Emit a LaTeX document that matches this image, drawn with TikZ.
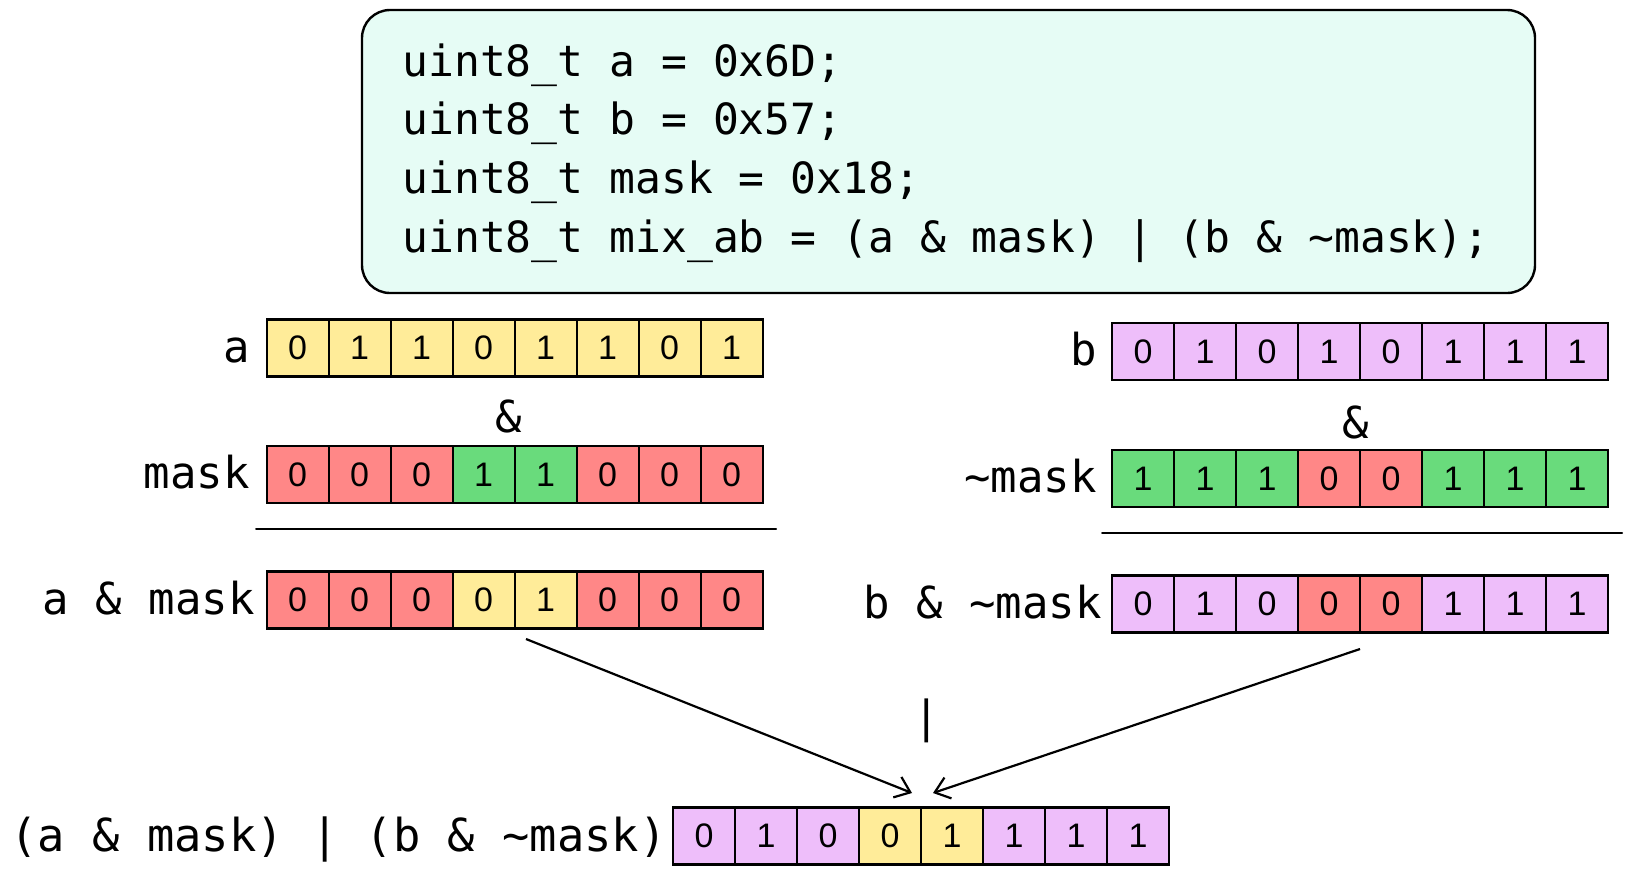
\documentclass[tikz,border=0pt]{standalone}
\usepackage{fontspec}
\setmainfont{Liberation Sans}
\newfontfamily\codefont{DejaVu Sans Mono}
\usetikzlibrary{arrows.meta,calc}

\definecolor{bitY}{HTML}{FFEC99}
\definecolor{bitR}{HTML}{FF8787}
\definecolor{bitG}{HTML}{69DB7C}
\definecolor{bitP}{HTML}{EEBEFA}
\definecolor{codebg}{HTML}{E6FCF5}

\tikzset{
  bitcell/.style={draw=black, line width=1.1pt, minimum width=31pt, minimum height=28.5pt,
    inner sep=0pt, outer sep=0pt, font=\fontsize{17}{17}\selectfont},
  rowlabel/.style={font=\codefont\fontsize{22}{26}\selectfont, inner sep=0pt, anchor=mid east,
    yshift=-4.5pt},
  oplabel/.style={font=\codefont\fontsize{22}{26}\selectfont, inner sep=0pt},
  codeline/.style={font=\codefont\fontsize{21.5}{26}\selectfont, inner sep=0pt, anchor=base west},
  codebox/.style={draw=black, fill=codebg, line width=1.2pt, rounded corners=14pt,
    minimum width=586.5pt, minimum height=141.5pt, inner sep=0pt},
  rule/.style={line width=1pt, line cap=round},
  flow/.style={line width=1.1pt, -{Straight Barb[length=7pt,width=11pt,line width=1.1pt]}},
}

% one row of eight bits: name prefix, left x, centre y, list of digit/colour
\newcommand\bitrow[4]{%
  \foreach \d/\c [count=\i] in {#4}
    \node[bitcell, fill=\c] (#1\i) at ({#2+31+62*(\i-1)}, #3) {\d};
}

\begin{document}
\begin{tikzpicture}[x=0.5pt, y=-0.5pt]
\useasboundingbox (0,0) rectangle (1633,880);

% code listing
\node[codebox] (code) at (948.5,151.5) {};
\node[codeline] (c1) at (402,76)  {uint8\_t a = 0x6D;};
\node[codeline] (c2) at (402,134) {uint8\_t b = 0x57;};
\node[codeline] (c3) at (402,193) {uint8\_t mask = 0x18;};
\node[codeline] (c4) at (402,252) {uint8\_t mix\_ab = (a \& mask) | (b \& \textasciitilde mask);};

% left column: a & mask
\bitrow{a}{266.6}{348}{0/bitY,1/bitY,1/bitY,0/bitY,1/bitY,1/bitY,0/bitY,1/bitY}
\node[rowlabel] (la) at (250,348) {a};
\node[oplabel] (andl) at (509,416) {\&};
\bitrow{m}{266.6}{474.5}{0/bitR,0/bitR,0/bitR,1/bitG,1/bitG,0/bitR,0/bitR,0/bitR}
\node[rowlabel] (lm) at (250,474.5) {mask};
\coordinate (rl1) at (256,529);
\coordinate (rl2) at (776,529);
\draw[rule] (rl1) -- (rl2);
\bitrow{am}{266.6}{600}{0/bitR,0/bitR,0/bitR,0/bitY,1/bitY,0/bitR,0/bitR,0/bitR}
\node[rowlabel] (lam) at (255,600) {a \& mask};

% right column: b & ~mask
\bitrow{b}{1112}{351.5}{0/bitP,1/bitP,0/bitP,1/bitP,0/bitP,1/bitP,1/bitP,1/bitP}
\node[rowlabel] (lb) at (1097,351.5) {b};
\node[oplabel] (andr) at (1356,422) {\&};
\bitrow{n}{1112}{478.5}{1/bitG,1/bitG,1/bitG,0/bitR,0/bitR,1/bitG,1/bitG,1/bitG}
\node[rowlabel] (ln) at (1097,478.5) {\textasciitilde mask};
\coordinate (rr1) at (1102,533);
\coordinate (rr2) at (1622,533);
\draw[rule] (rr1) -- (rr2);
\bitrow{bn}{1112}{604}{0/bitP,1/bitP,0/bitP,0/bitR,0/bitR,1/bitP,1/bitP,1/bitP}
\node[rowlabel] (lbn) at (1102,604) {b \& \textasciitilde mask};

% result
\node[oplabel] (orop) at (927,721) {|};
\bitrow{r}{673}{836}{0/bitP,1/bitP,0/bitP,0/bitY,1/bitY,1/bitP,1/bitP,1/bitP}
\node[rowlabel, font=\codefont\fontsize{22.7}{26}\selectfont, yshift=-0.5pt] (lr) at (667,836)
  {(a \& mask) | (b \& \textasciitilde mask)};

% arrows into the result row
\coordinate (sa) at (526,639);
\coordinate (ta) at (912,793);
\coordinate (sb) at (1360,649);
\coordinate (tb) at (933,793);
\draw[flow] (sa) -- (ta);
\draw[flow] (sb) -- (tb);
\end{tikzpicture}
\end{document}
